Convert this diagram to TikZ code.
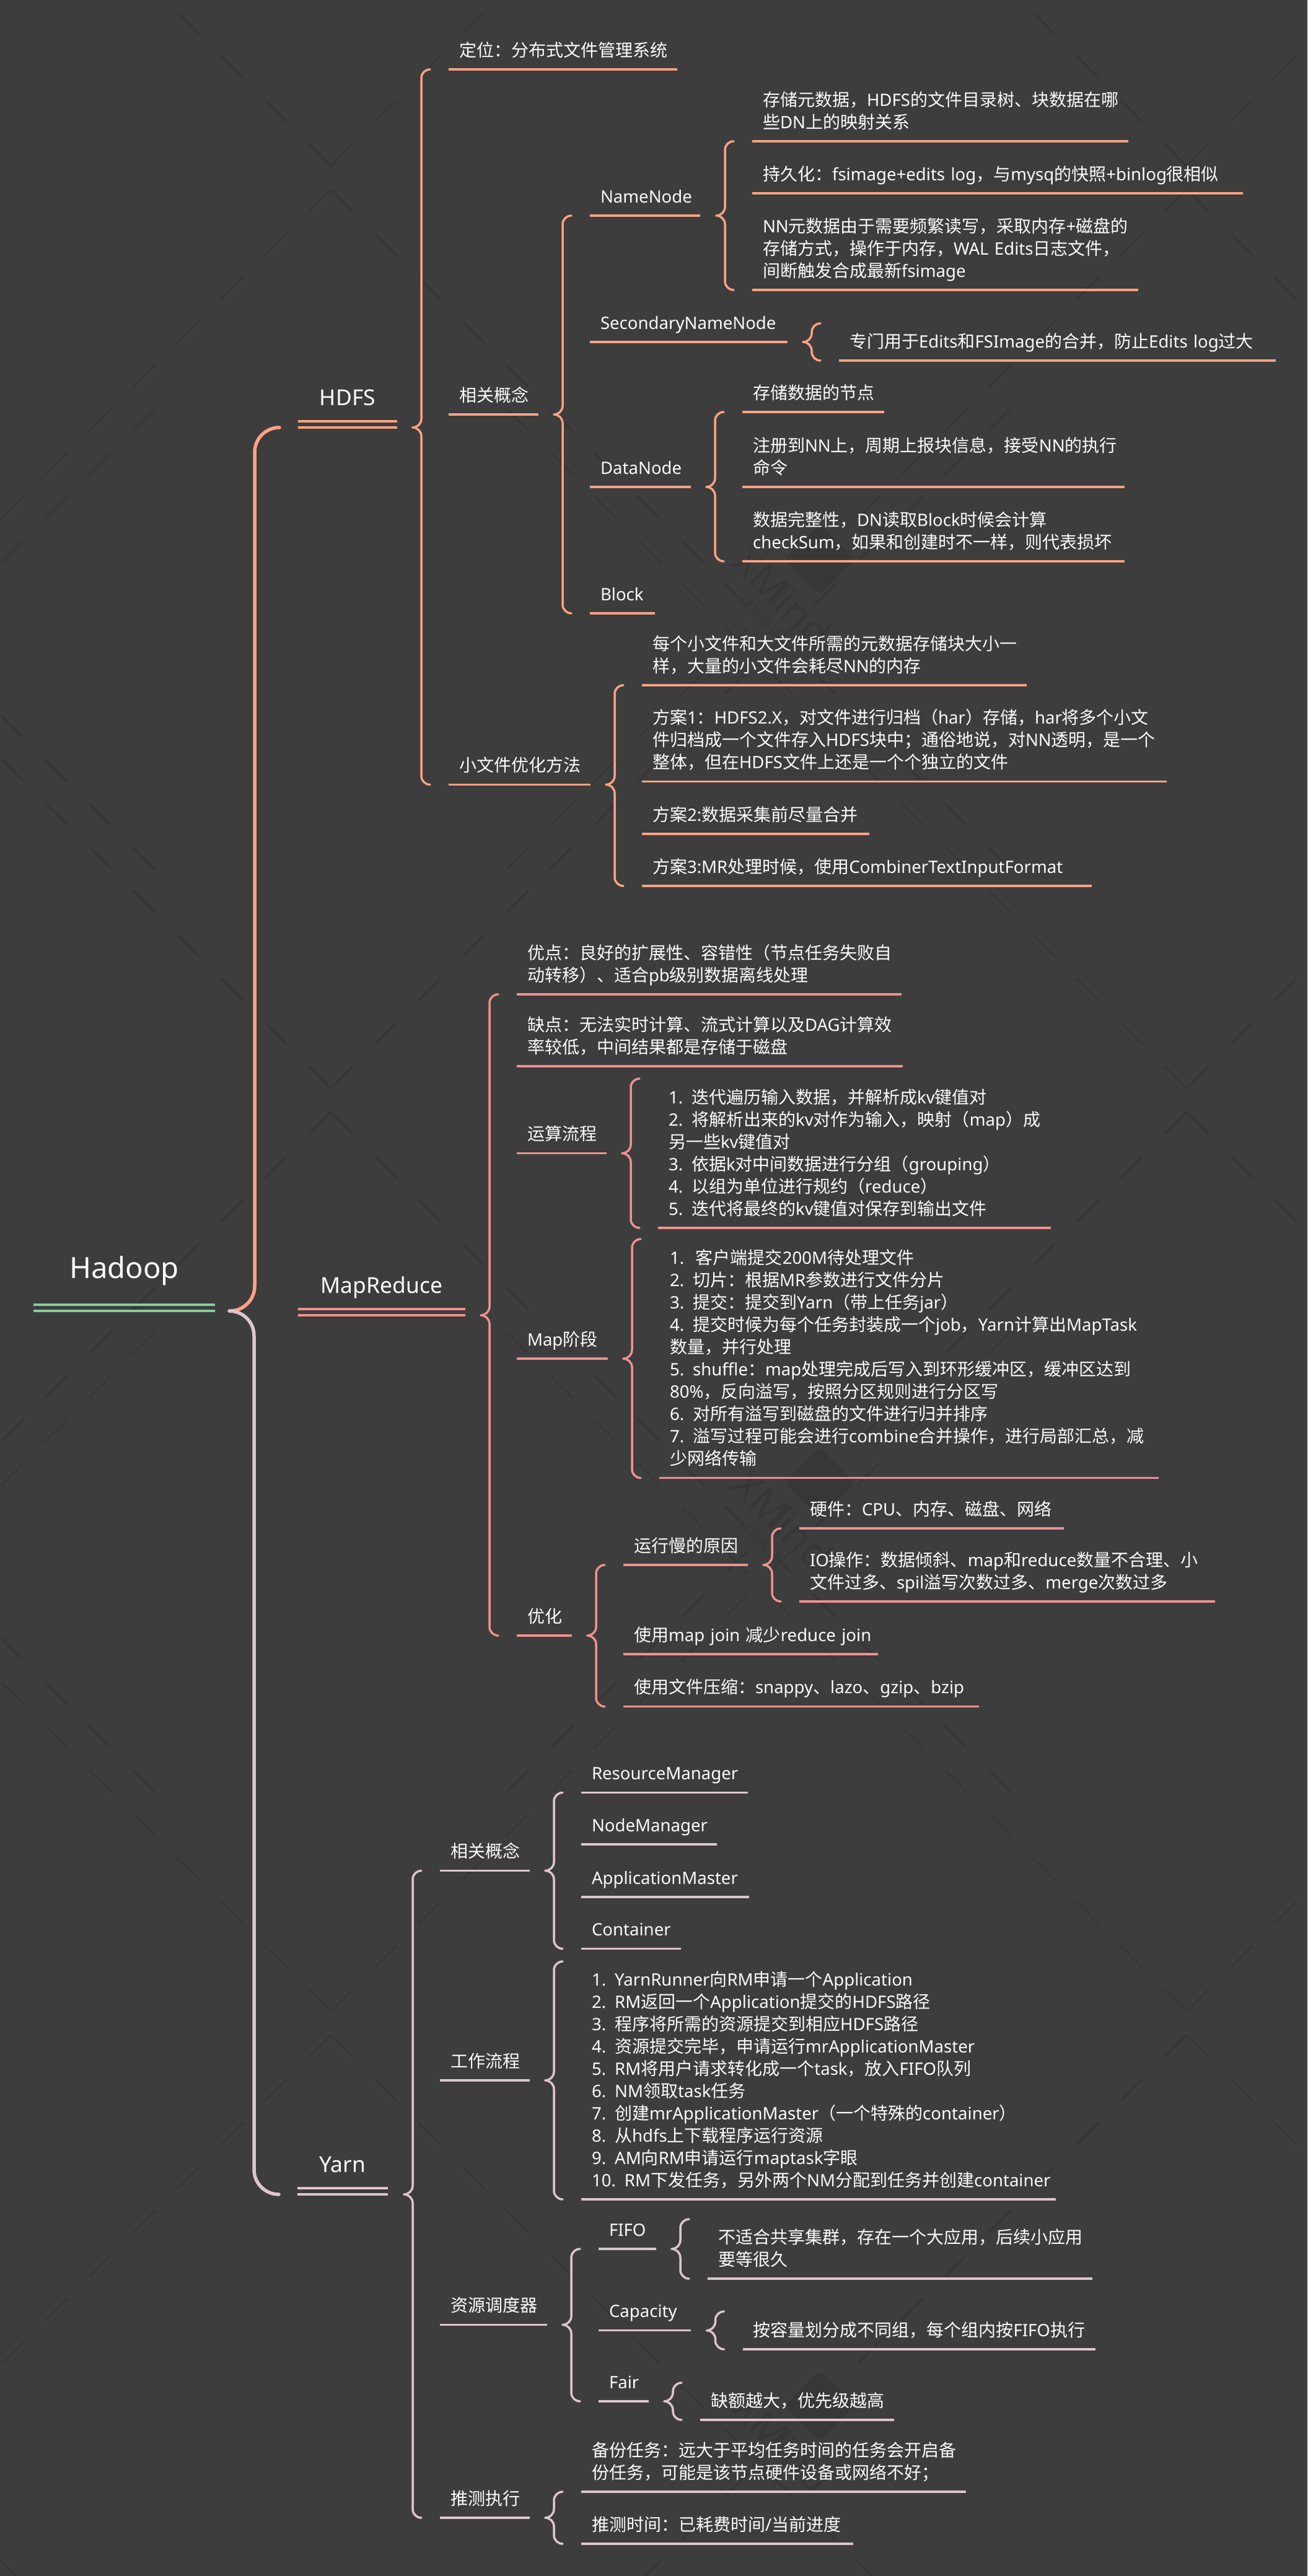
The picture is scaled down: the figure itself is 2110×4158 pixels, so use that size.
\documentclass[tikz,border=0pt]{standalone}
\usepackage{fontspec}
\usetikzlibrary{calc}

\setmainfont{Noto Sans}
\newfontfamily\latinfont[Scale=0.985]{Noto Sans}
\newfontfamily\cjkfont{Noto Sans CJK SC}

%switch the font by itself between latin and chinese characters
\newXeTeXintercharclass\cjkclass
\XeTeXinterchartokenstate=1
\count255="3000
\loop\XeTeXcharclass\count255=\cjkclass\ifnum\count255<"9FFF\advance\count255 by 1\repeat
\count255="FF00
\loop\XeTeXcharclass\count255=\cjkclass\ifnum\count255<"FFEF\advance\count255 by 1\repeat
\XeTeXinterchartoks 0 \cjkclass={\cjkfont}
\XeTeXinterchartoks \cjkclass 0={\latinfont}
\XeTeXinterchartoks 4095 \cjkclass={\cjkfont}
\XeTeXinterchartoks 4095 0={\latinfont}

\definecolor{paper}{HTML}{3D3D3D}
\definecolor{wmark}{HTML}{373737}
\definecolor{rootline}{HTML}{84CE98}
\definecolor{hdfsline}{HTML}{FFA283}
\definecolor{mrline}{HTML}{F09090}
\definecolor{yarnline}{HTML}{DEC5CC}

\tikzset{
        rule/.style={draw=branch, line width=3.5pt},
        topic/.style={anchor=south west, outer sep=0pt, inner xsep=17pt, inner ysep=9pt,
                text=white, align=left, font=\fontsize{28}{36}\selectfont,
                execute at end node={\rule[-12pt]{0pt}{12pt}},
                append after command={(\tikzlastnode.south west) edge[rule] (\tikzlastnode.south east)}},
        lw/.style={text width=#1pt-34pt},
        main/.style={topic, align=center, inner ysep=24pt, font=\fontsize{36}{44}\selectfont,
                append after command={([yshift=10pt]\tikzlastnode.south west) edge[rule] ([yshift=10pt]\tikzlastnode.south east)}},
        brace/.style={draw=branch, line width=3.5pt, line cap=round, rounded corners=#1pt,
                to path={let \p1=(\tikztostart), \p2=(\tikztotarget) in
                        (\x2-30-2*#1,\y1) -- (\x2-30-#1,\y1) -- (\x2-30-#1,\y2) -- (\x2-30,\y2)}},
        wmdash/.style={draw=wmark, line width=3pt, dash pattern=on 51pt off 49pt}
}

\begin{document}
\begin{tikzpicture}[x=1pt,y=-1pt]
        \fill[paper] (0,0) rectangle (2110,4158);
        \useasboundingbox (0,0) rectangle (2110,4158);

        %faint trial mark behind the map
        \foreach \cx in {-847,534,1915,3296}
            \foreach \cy in {287,1776,3266} {
                \draw[wmdash] (\cx,\cy-19) -- ++(1100,-1100);
                \draw[wmdash] (\cx,\cy-19) -- ++(-1100,-1100);
                \draw[wmdash] (\cx,\cy+19) -- ++(1100,1100);
                \draw[wmdash] (\cx,\cy+19) -- ++(-1100,1100);
            }
        \foreach \wy in {903,2393,3883} {
            \node[fill=wmark, rotate=45, minimum size=80pt, rounded corners=8pt] (logo\wy) at (1323,\wy) {};
            \node[rotate=-45, text=wmark, font=\fontsize{66}{66}\selectfont] (xmind\wy) at (1263,\wy+60) {XMind};
            \node[rotate=-45, text=wmark, font=\fontsize{22}{22}\selectfont] (trial\wy) at (1227,\wy+94) {试用模式};
        }

        %root
        \colorlet{branch}{rootline}
        \node[main, rule/.append style={line width=6pt}, lw=293, inner ysep=41pt, font=\fontsize{48}{56}\selectfont] (hadoop) at (54,2116) {Hadoop};

        %first branch
        \begin{scope}
            \colorlet{branch}{hdfsline}
            \node[main, lw=160] (hdfs) at (481,690) {HDFS};
            \node[topic, lw=369] (posn) at (724,112) {定位：分布式文件管理系统};
            \node[topic, lw=145] (hconcept) at (724,669) {相关概念};
            \node[topic, lw=229] (hsmall) at (724,1266.5) {小文件优化方法};

            \node[topic, lw=178] (nn) at (952,348) {NameNode};
            \node[topic, lw=319] (snn) at (952,552) {SecondaryNameNode};
            \node[topic, lw=163] (dn) at (952,786) {DataNode};
            \node[topic, lw=105] (block) at (952,990) {Block};

            \node[topic, lw=607] (nnmeta) at (1214,228) {存储元数据，HDFS的文件目录树、块数据在哪\\些DN上的映射关系};
            \node[topic, lw=792] (nnlog) at (1214,312) {持久化：fsimage+edits log，与mysq的快照+binlog很相似};
            \node[topic, lw=623] (nnmem) at (1214,468) {NN元数据由于需要频繁读写，采取内存+磁盘的\\存储方式，操作于内存，WAL Edits日志文件，\\间断触发合成最新fsimage};
            \node[topic, lw=705] (snnmerge) at (1354,582) {专门用于Edits和FSImage的合并，防止Edits log过大};
            \coordinate (snntop) at (1354,522);
            \node[topic, lw=229] (dnstore) at (1198,665) {存储数据的节点};
            \node[topic, lw=617] (dnreg) at (1198,786) {注册到NN上，周期上报块信息，接受NN的执行\\命令};
            \node[topic, lw=617] (dnsum) at (1198,906) {数据完整性，DN读取Block时候会计算\\checkSum，如果和创建时不一样，则代表损坏};

            \node[topic, lw=621] (smeta) at (1036,1106) {每个小文件和大文件所需的元数据存储块大小一\\样，大量的小文件会耗尽NN的内存};
            \node[topic, lw=847] (splan1) at (1036,1261.5) {方案1：HDFS2.X，对文件进行归档（har）存储，har将多个小文\\件归档成一个文件存入HDFS块中；通俗地说，对NN透明，是一个\\整体，但在HDFS文件上还是一个个独立的文件};
            \node[topic, lw=367] (splan2) at (1036,1346) {方案2:数据采集前尽量合并};
            \node[topic, lw=726] (splan3) at (1036,1430) {方案3:MR处理时候，使用CombinerTextInputFormat};

            \draw[brace=40, line width=5.5pt] (hadoop.south east) to (hdfs.south west);
            \draw[brace=14] (hdfs.south east) to (posn.south west);
            \draw[brace=14] (hdfs.south east) to (hsmall.south west);
            \draw[brace=14] (hconcept.south east) to (nn.south west);
            \draw[brace=14] (hconcept.south east) to (block.south west);
            \draw[brace=14] (nn.south east) to (nnmeta.south west);
            \draw[brace=14] (nn.south east) to (nnmem.south west);
            \draw[brace=14] (snn.south east) to (snntop);
            \draw[brace=14] (snn.south east) to (snnmerge.south west);
            \draw[brace=14] (dn.south east) to (dnstore.south west);
            \draw[brace=14] (dn.south east) to (dnsum.south west);
            \draw[brace=14] (hsmall.south east) to (smeta.south west);
            \draw[brace=14] (hsmall.south east) to (splan3.south west);
        \end{scope}

        %second branch
        \begin{scope}
            \colorlet{branch}{mrline}
            \node[main, lw=270] (mapred) at (481,2123) {MapReduce};
            \node[topic, lw=621] (mgood) at (834,1605) {优点：良好的扩展性、容错性（节点任务失败自\\动转移）、适合pb级别数据离线处理};
            \node[topic, lw=623] (mbad) at (834,1721) {缺点：无法实时计算、流式计算以及DAG计算效\\率较低，中间结果都是存储于磁盘};
            \node[topic, lw=145] (mflow) at (834,1861.5) {运算流程};
            \node[topic, lw=147] (mmap) at (834,2193) {Map阶段};
            \node[topic, lw=89] (mopt) at (834,2640) {优化};

            \node[topic, lw=634] (mflowlist) at (1062,1982) {1. 迭代遍历输入数据，并解析成kv键值对\\2. 将解析出来的kv对作为输入，映射（map）成\\另一些kv键值对\\3. 依据k对中间数据进行分组（grouping）\\4. 以组为单位进行规约（reduce）\\5. 迭代将最终的kv键值对保存到输出文件};
            \coordinate (mflowtop) at (1062,1741);
            \node[topic, lw=806] (mmaplist) at (1064,2385.6) {1.\ \ 客户端提交200M待处理文件\\2. 切片：根据MR参数进行文件分片\\3. 提交：提交到Yarn（带上任务jar）\\4. 提交时候为每个任务封装成一个job，Yarn计算出MapTask\\数量，并行处理\\5. shuffle：map处理完成后写入到环形缓冲区，缓冲区达到\\80\%，反向溢写，按照分区规则进行分区写\\6. 对所有溢写到磁盘的文件进行归并排序\\7. 溢写过程可能会进行combine合并操作，进行局部汇总，减\\少网络传输};
            \coordinate (mmaptop) at (1064,2000);
            \node[topic, lw=201] (mslow) at (1006,2526) {运行慢的原因};
            \node[topic, lw=411] (mjoin) at (1006,2670) {\mbox{使用map join 减少reduce join}};
            \node[topic, lw=574] (mzip) at (1006,2754.6) {使用文件压缩：snappy、lazo、gzip、bzip};
            \node[topic, lw=427] (mhw) at (1290,2467) {硬件：CPU、内存、磁盘、网络};
            \node[topic, lw=671] (mio) at (1290,2585) {IO操作：数据倾斜、map和reduce数量不合理、小\\文件过多、spil溢写次数过多、merge次数过多};

            \draw[brace=14] (mapred.south east) to (mgood.south west);
            \draw[brace=14] (mapred.south east) to (mopt.south west);
            \draw[brace=14] (mflow.south east) to (mflowtop);
            \draw[brace=14] (mflow.south east) to (mflowlist.south west);
            \draw[brace=14] (mmap.south east) to (mmaptop);
            \draw[brace=14] (mmap.south east) to (mmaplist.south west);
            \draw[brace=14] (mopt.south east) to (mslow.south west);
            \draw[brace=14] (mopt.south east) to (mzip.south west);
            \draw[brace=14] (mslow.south east) to (mhw.south west);
            \draw[brace=14] (mslow.south east) to (mio.south west);
        \end{scope}

        %third branch
        \begin{scope}
            \colorlet{branch}{yarnline}
            \node[main, lw=146] (yarn) at (480,3542) {Yarn};
            \node[topic, lw=145] (yconcept) at (710,3019.5) {相关概念};
            \node[topic, lw=145] (ywork) at (710,3358) {工作流程};
            \node[topic, lw=173] (ysched) at (710,3752.5) {资源调度器};
            \node[topic, lw=145] (yspec) at (710,4064) {推测执行};

            \node[topic, lw=269] (yrm) at (938,2893.5) {ResourceManager};
            \node[topic, lw=219] (ynm) at (938,2977) {NodeManager};
            \node[topic, lw=271] (yam) at (938,3062) {ApplicationMaster};
            \node[topic, lw=161] (ycont) at (938,3145.5) {Container};
            \node[topic, lw=766] (yworklist) at (938,3550) {1. YarnRunner向RM申请一个Application\\2. RM返回一个Application提交的HDFS路径\\3. 程序将所需的资源提交到相应HDFS路径\\4. 资源提交完毕，申请运行mrApplicationMaster\\5. RM将用户请求转化成一个task，放入FIFO队列\\6. NM领取task任务\\7. 创建mrApplicationMaster（一个特殊的container）\\8. 从hdfs上下载程序运行资源\\9. AM向RM申请运行maptask字眼\\10. RM下发任务，另外两个NM分配到任务并创建container};
            \coordinate (yworktop) at (938,3166);

            \node[topic, lw=93] (yfifo) at (966,3630) {FIFO};
            \node[topic, lw=149] (ycap) at (966,3761.6) {Capacity};
            \node[topic, lw=81] (yfair) at (966,3876) {Fair};
            \node[topic, lw=621] (yfifonote) at (1142,3678) {不适合共享集群，存在一个大应用，后续小应用\\要等很久};
            \coordinate (yfifotop) at (1142,3582);
            \node[topic, lw=569] (ycapnote) at (1198.5,3792) {按容量划分成不同组，每个组内按FIFO执行};
            \coordinate (ycaptop) at (1198.5,3731);
            \node[topic, lw=313] (yfairnote) at (1130,3906) {缺额越大，优先级越高};
            \coordinate (yfairtop) at (1130,3846);
            \node[topic, lw=621] (ybak) at (938,4022) {备份任务：远大于平均任务时间的任务会开启备\\份任务，可能是该节点硬件设备或网络不好；};
            \node[topic, lw=439] (yest) at (938,4106) {推测时间：已耗费时间/当前进度};

            \draw[brace=40, line width=5.5pt] (hadoop.south east) to (yarn.south west);
            \draw[brace=14] (yarn.south east) to (yconcept.south west);
            \draw[brace=14] (yarn.south east) to (yspec.south west);
            \draw[brace=14] (yconcept.south east) to (yrm.south west);
            \draw[brace=14] (yconcept.south east) to (ycont.south west);
            \draw[brace=14] (ywork.south east) to (yworktop);
            \draw[brace=14] (ywork.south east) to (yworklist.south west);
            \draw[brace=14] (ysched.south east) to (yfifo.south west);
            \draw[brace=14] (ysched.south east) to (yfair.south west);
            \draw[brace=14] (yfifo.south east) to (yfifotop);
            \draw[brace=14] (yfifo.south east) to (yfifonote.south west);
            \draw[brace=14] (ycap.south east) to (ycaptop);
            \draw[brace=14] (ycap.south east) to (ycapnote.south west);
            \draw[brace=14] (yfair.south east) to (yfairtop);
            \draw[brace=14] (yfair.south east) to (yfairnote.south west);
            \draw[brace=14] (yspec.south east) to (ybak.south west);
            \draw[brace=14] (yspec.south east) to (yest.south west);
        \end{scope}
\end{tikzpicture}
\end{document}
